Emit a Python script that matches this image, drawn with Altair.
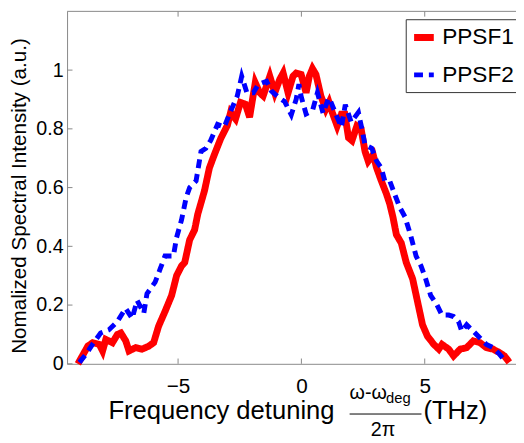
import altair as alt
import pandas as pd

# ---- data ----
ppsf1_x = [-9.06, -8.66, -8.46, -8.19, -8.06, -7.93, -7.66, -7.46, -7.32, -7.12, -6.99, -6.72, -6.46,
           -6.19, -5.99, -5.79, -5.53, -5.26, -5.06, -4.86, -4.73, -4.53, -4.33, -4.20, -3.93, -3.73,
           -3.53, -3.27, -3.00, -2.87, -2.67, -2.47, -2.27, -2.10, -1.87, -1.69, -1.55, -1.28, -1.08,
           -0.88, -0.74, -0.54, -0.34, -0.21, -0.01, 0.19, 0.32, 0.45, 0.59, 0.79, 0.99, 1.12, 1.25,
           1.45, 1.62, 1.76, 1.91, 2.05, 2.25, 2.42, 2.58, 2.71, 2.91, 3.05, 3.24, 3.45, 3.58, 3.71,
           3.85, 4.05, 4.25, 4.51, 4.71, 4.91, 5.11, 5.37, 5.57, 5.70, 5.97, 6.17, 6.44, 6.70, 6.97,
           7.24, 7.50, 7.77, 8.03, 8.23, 8.43]
ppsf1_y = [0.0, 0.06, 0.072, 0.066, 0.044, 0.083, 0.072, 0.100, 0.105, 0.078, 0.044, 0.055, 0.050,
           0.060, 0.072, 0.128, 0.178, 0.233, 0.300, 0.333, 0.345, 0.422, 0.456, 0.510, 0.589, 0.667,
           0.712, 0.767, 0.812, 0.856, 0.834, 0.890, 0.884, 0.840, 0.957, 0.923, 0.912, 0.979, 0.923,
           0.968, 0.990, 0.923, 0.979, 0.990, 0.985, 0.923, 0.979, 1.005, 0.985, 0.912, 0.867, 0.890,
           0.856, 0.810, 0.850, 0.850, 0.770, 0.760, 0.810, 0.800, 0.723, 0.690, 0.712, 0.667, 0.623,
           0.578, 0.545, 0.500, 0.440, 0.411, 0.345, 0.289, 0.211, 0.133, 0.094, 0.066, 0.050, 0.066,
           0.050, 0.027, 0.050, 0.055, 0.078, 0.072, 0.055, 0.050, 0.038, 0.027, 0.005]

ppsf2_x = [-9.00, -8.73, -8.47, -8.14, -7.80, -7.46, -7.13, -6.86, -6.66, -6.39, -6.26, -5.93, -5.73,
           -5.53, -5.19, -5.06, -4.86, -4.67, -4.53, -4.27, -4.07, -3.87, -3.67, -3.40, -3.13, -2.87,
           -2.60, -2.42, -2.21, -1.95, -1.75, -1.41, -1.22, -0.94, -0.68, -0.41, -0.21, -0.10, -0.01,
           0.19, 0.45, 0.65, 0.88, 1.10, 1.19, 1.42, 1.62, 1.78, 2.02, 2.31, 2.45, 2.58, 2.85, 3.05,
           3.24, 3.38, 3.58, 3.78, 3.98, 4.20, 4.42, 4.65, 4.85, 5.04, 5.24, 5.50, 5.70, 5.97, 6.17,
           6.37, 6.50, 6.70, 6.97, 7.24, 7.50, 7.77, 8.03, 8.30]
ppsf2_y = [0.005, 0.033, 0.066, 0.105, 0.116, 0.144, 0.189, 0.155, 0.216, 0.172, 0.239, 0.278, 0.322,
           0.367, 0.367, 0.430, 0.490, 0.567, 0.600, 0.623, 0.723, 0.734, 0.762, 0.815, 0.806, 0.860,
           0.912, 0.979, 0.923, 0.923, 0.951, 0.962, 0.929, 0.908, 0.893, 0.848, 0.901, 0.952, 0.910,
           0.851, 0.862, 0.923, 0.853, 0.905, 0.893, 0.845, 0.806, 0.882, 0.823, 0.856, 0.801, 0.745,
           0.734, 0.690, 0.667, 0.623, 0.623, 0.578, 0.534, 0.500, 0.440, 0.367, 0.333, 0.289, 0.233,
           0.200, 0.166, 0.166, 0.161, 0.144, 0.111, 0.133, 0.111, 0.088, 0.066, 0.055, 0.033, 0.005]

series_names = ["PPSF1", "PPSF2"]
series_colors = ["#ff0000", "#0000ff"]
x_ticks = [-5, 0, 5]
y_ticks = [0, 0.2, 0.4, 0.6, 0.8, 1.0]
x_domain = [-9.5, 8.7]
y_domain = [0, 1.2]

df = pd.concat([
    pd.DataFrame({"x": ppsf1_x, "y": ppsf1_y, "series": series_names[0]}),
    pd.DataFrame({"x": ppsf2_x, "y": ppsf2_y, "series": series_names[1]}),
])

FONT = "Liberation Sans"
xs = alt.Scale(domain=x_domain, nice=False, zero=False)
ys = alt.Scale(domain=y_domain, nice=False, zero=False)

x_axis = alt.Axis(values=x_ticks, title=None, ticks=False, labelFontSize=21, labelPadding=12,
                  labelFont=FONT, labelColor="black", domainColor="#888", grid=False)
y_axis = alt.Axis(values=y_ticks, format=".1~f", ticks=False, labelFontSize=20, labelPadding=4,
                  labelFont=FONT, labelColor="black", domainColor="#888", grid=False,
                  title="Nomalized Spectral Intensity (a.u.)", titleFont=FONT, titleFontSize=21,
                  titleFontWeight="normal", titleColor="black", titleX=-38, titleY=187,
                  titleBaseline="bottom")

X = alt.X("x:Q", scale=xs, axis=x_axis)
Y = alt.Y("y:Q", scale=ys, axis=y_axis)

legend = alt.Legend(title=None, orient="none", legendX=344, legendY=8, direction="vertical",
                    padding=5, strokeColor="#333", fillColor="white", symbolType="stroke",
                    symbolSize=400, symbolStrokeWidth=6, labelFontSize=23, labelFont=FONT,
                    labelColor="black", rowPadding=11, labelOffset=5)

lines = alt.Chart(df).mark_line(strokeCap="butt").encode(
    x=X, y=Y,
    color=alt.Color("series:N", scale=alt.Scale(domain=series_names, range=series_colors), legend=legend),
    strokeDash=alt.StrokeDash("series:N", scale=alt.Scale(domain=series_names, range=[[1, 0], [9, 6]]),
                              legend=legend),
    strokeWidth=alt.StrokeWidth("series:N", scale=alt.Scale(domain=series_names, range=[7, 5]),
                                legend=None),
)

# frame top line and inside ticks
top_df = pd.DataFrame({"x": [x_domain[0]], "x2": [x_domain[1]], "y": [y_domain[1]]})
top = alt.Chart(top_df).mark_rule(color="#888", strokeWidth=1).encode(x=X, x2="x2:Q", y=Y)

xt_df = pd.DataFrame({"x": x_ticks * 2,
                      "y": [0] * 3 + [1.2] * 3,
                      "y2": [0.018] * 3 + [1.182] * 3})
xt = alt.Chart(xt_df).mark_rule(color="#888", strokeWidth=1).encode(x=X, y=Y, y2="y2:Q")

yt_df = pd.DataFrame({"y": y_ticks, "x": [x_domain[0]] * len(y_ticks),
                      "x2": [x_domain[0] + 0.22] * len(y_ticks)})
yt = alt.Chart(yt_df).mark_rule(color="#888", strokeWidth=1).encode(x=X, x2="x2:Q", y=Y)

# x-axis title with fraction
def txt(s, px, py, size, align="left"):
    return alt.Chart(pd.DataFrame({"t": [s]})).mark_text(
        font=FONT, fontSize=size, align=align, baseline="alphabetic", color="black"
    ).encode(text="t:N", x=alt.value(px), y=alt.value(py))

t1 = txt("Frequency detuning", 42, 414, 26)
t2 = txt("ω-ω", 287, 394, 20)
t3 = txt("deg", 324, 398, 15)
bar = alt.Chart(pd.DataFrame({"a": [0]})).mark_rule(color="black", strokeWidth=1).encode(
    x=alt.value(287), x2=alt.value(360), y=alt.value(409))
t4 = txt("2π", 321, 431, 20, align="center")
t5 = txt("(THz)", 362, 414, 26)

chart = alt.layer(lines, top, xt, yt, t1, t2, t3, bar, t4, t5).properties(
    width=456, height=358,
    autosize=alt.AutoSizeParams(type="none"),
    padding={"left": 60, "top": 0, "right": 0, "bottom": 76},
).configure_view(stroke=None)

chart.save("out.html", embed_options={"renderer": "svg", "actions": False})
